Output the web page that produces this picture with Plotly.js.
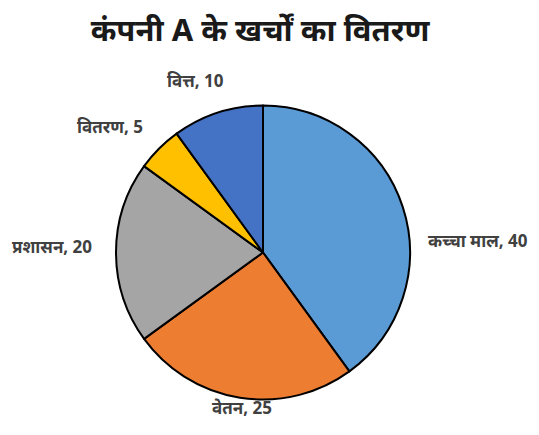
<!DOCTYPE html>
<html>
<head>
<meta charset="utf-8">
<script src="https://cdn.plot.ly/plotly-3.0.1.min.js"></script>
<style>html,body{margin:0;padding:0;background:#fff;}#chart{width:539px;height:435px;}</style>
</head>
<body>
<div id="chart"></div>
<script>
var categories = ["कच्चा माल", "वेतन", "प्रशासन", "वितरण", "वित्त"];
var values = [40, 25, 20, 5, 10];
var colors = ["#5B9BD5", "#ED7D31", "#A5A5A5", "#FFC000", "#4472C4"];
var chartTitle = "कंपनी A के खर्चों का वितरण";

// label placement (pixel centers) – layout only
var labelPos = [[478, 240], [242, 407], [52, 247], [110, 126], [195, 80]];

var W = 539, H = 435;
var fontFam = "Noto Sans, DejaVu Sans, sans-serif";

var trace = {
  type: "pie",
  labels: categories,
  values: values,
  sort: false,
  direction: "clockwise",
  rotation: 0,
  marker: {colors: colors, line: {color: "#000000", width: 2}},
  textinfo: "none",
  automargin: false,
  showlegend: false,
  hoverinfo: "none",
  domain: {x: [116/W, 410/W], y: [1 - 400/H, 1 - 105/H]}
};

var annotations = categories.map(function (c, i) {
  return {
    text: "<b>" + c + ", " + values[i] + "</b>",
    xref: "paper", yref: "paper",
    x: labelPos[i][0] / W, y: 1 - labelPos[i][1] / H,
    xanchor: "center", yanchor: "middle",
    showarrow: false,
    font: {family: fontFam, size: 17, color: "#404040"}
  };
});

var layout = {
  width: W, height: H,
  margin: {l: 0, r: 0, t: 0, b: 0},
  paper_bgcolor: "#ffffff",
  showlegend: false,
  annotations: annotations,
  title: {
    text: "<b>" + chartTitle + "</b>",
    x: 260/W, xanchor: "center", y: 1 - 30/H, yanchor: "middle",
    font: {family: fontFam, size: 31, color: "#1a1a1a"}
  }
};

Plotly.newPlot("chart", [trace], layout, {staticPlot: true});
</script>
</body>
</html>
